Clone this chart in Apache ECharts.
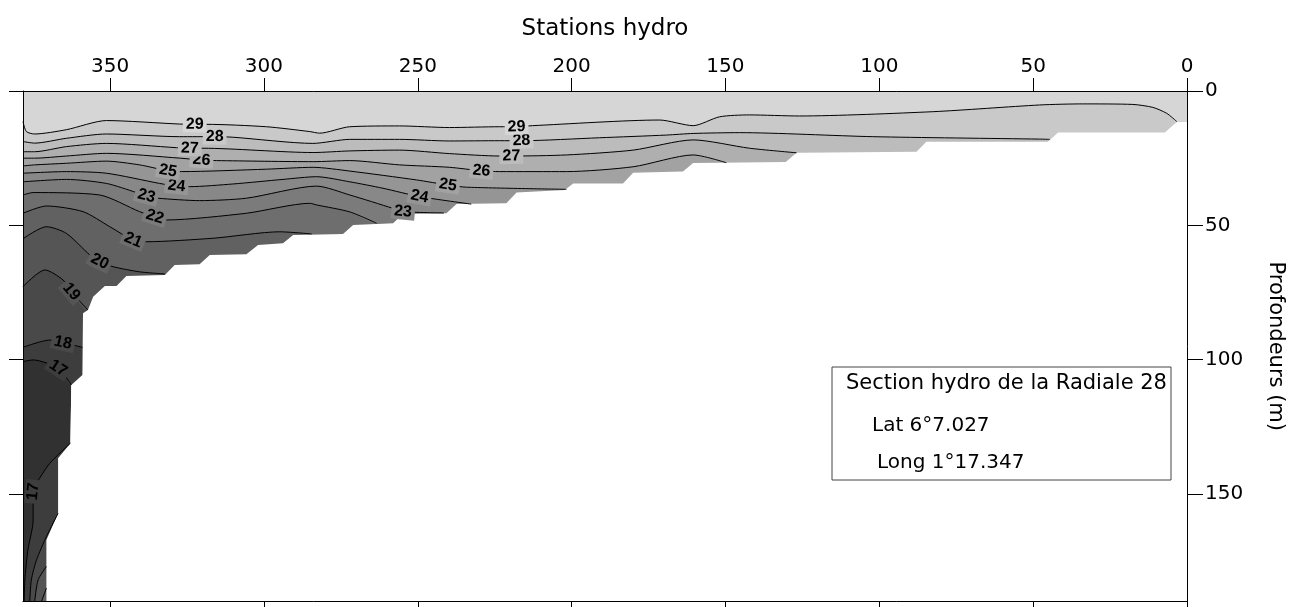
<!DOCTYPE html>
<html>
<head>
<meta charset="utf-8">
<title>Section hydro de la Radiale 28</title>
<script src="https://cdn.jsdelivr.net/npm/echarts@6/dist/echarts.min.js"></script>
<style>
html, body { margin: 0; padding: 0; background: #fff; }
#chart { width: 1295px; height: 607px; }
</style>
</head>
<body>
<div id="chart"></div>
<script>
// axes
var xTicks = [0, 50, 100, 150, 200, 250, 300, 350];
var yTicks = [0, 50, 100, 150];
var stationMax = 378.3;
var depthMax = 190;

// fond (station, profondeur)
var seabed = [[0, 11.5], [3.3, 11.5], [7.2, 15.4], [41.9, 15.4], [45.2, 18.9], [84.7, 18.9], [87.9, 22.6],
	[126.9, 23.0], [130.4, 26.4], [160.5, 26.8], [163.8, 30.0], [180.0, 30.4], [183.3, 34.4], [199.5, 34.4],
	[202.2, 36.8], [217.9, 37.8], [221.2, 41.8], [237.4, 42.1], [240.7, 45.5], [254.9, 45.8], [258.0, 49.2],
	[271.0, 49.9], [274.3, 53.2], [290.5, 53.6], [293.8, 56.7], [301.9, 57.3], [305.7, 60.8], [317.6, 61.0],
	[320.9, 64.5], [329.0, 64.8], [332.2, 68.5], [344.7, 68.9], [347.9, 72.6], [351.7, 72.6], [355.5, 76.6],
	[357.2, 81.5], [358.8, 82.7], [359.0, 105.7], [362.6, 109.4], [362.9, 131.1], [366.9, 136.7], [366.9, 157.2],
	[370.7, 167.1], [370.7, 190], [378.3, 190]];

// isothermes (station, profondeur)
var iso29 = [[378.3, 11.4], [377.2, 15.1], [374.5, 16.0], [364.2, 14.4], [351.2, 11.0], [327.4, 12.3], [322.5, 12.4],
	[318.7, 12.4], [299.2, 13.3], [285.1, 15.1], [281.9, 15.7], [272.1, 13.3], [255.9, 13.0], [239.7, 13.6],
	[223.4, 13.3], [217.9, 13.3], [212.7, 12.9], [171.4, 10.8], [160.5, 12.9], [151.9, 9.6], [142.2, 8.9],
	[125.9, 9.3], [82.6, 7.7], [47.9, 5.2], [33.9, 4.8], [17.6, 5.0], [11.1, 6.1], [6.6, 8.3], [3.3, 11.4]];
var iso28 = [[378.3, 18.8], [374.5, 19.4], [364.2, 17.6], [351.2, 16.0], [327.4, 17.0], [316.0, 17.0], [310.1, 17.2],
	[284.1, 19.5], [272.1, 18.0], [255.9, 18.0], [239.7, 18.6], [223.4, 18.5], [216.3, 18.5], [190.9, 17.4],
	[169.2, 16.4], [160.5, 15.8], [145.4, 15.5], [102.1, 17.0], [47.9, 17.9], [44.6, 18.0]];
var iso27 = [[378.3, 22.6], [374.5, 22.6], [364.2, 20.7], [351.2, 19.5], [328.4, 21.1], [324.1, 21.3], [319.8, 21.3],
	[284.0, 22.9], [272.1, 22.3], [255.9, 22.0], [239.7, 23.3], [223.4, 24.2], [219.6, 24.2], [201.7, 23.8],
	[180.0, 22.0], [160.5, 18.2], [142.2, 21.3], [126.9, 23.0]];
var iso26 = [[378.3, 25.0], [374.5, 25.0], [364.2, 24.2], [351.2, 23.2], [327.2, 25.0], [320.3, 25.7], [315.4, 25.9],
	[284.0, 26.3], [272.1, 25.9], [255.9, 27.5], [239.7, 28.4], [229.3, 29.7], [223.4, 30.0], [201.7, 30.0],
	[180.0, 28.2], [160.5, 23.8], [149.7, 26.7]];
var iso25 = [[378.3, 27.9], [374.5, 27.5], [364.2, 26.9], [351.2, 26.1], [340.4, 27.5], [331.2, 29.7], [326.8, 30.0],
	[299.2, 29.1], [284.0, 28.4], [272.1, 29.8], [250.4, 33.1], [240.2, 35.0], [234.2, 35.8], [201.7, 36.6]];
var iso24 = [[378.3, 30.6], [364.2, 30.0], [351.2, 30.6], [333.9, 34.4], [328.4, 35.4], [324.1, 35.6], [310.0, 34.6],
	[293.8, 32.9], [282.9, 31.9], [272.1, 33.8], [261.3, 36.2], [249.4, 39.3], [232.6, 42.1]];
var iso23 = [[378.3, 33.8], [364.2, 32.9], [351.2, 34.4], [341.4, 37.8], [338.2, 39.1], [334.4, 39.9], [320.9, 40.8],
	[305.7, 39.9], [282.9, 35.4], [272.1, 38.7], [258.0, 43.7], [254.8, 44.9], [241.5, 45.4]];
var iso22 = [[378.3, 38.7], [375.0, 37.8], [353.4, 38.7], [340.4, 44.9], [335.5, 46.8], [331.7, 48.0], [305.7, 45.5],
	[285.1, 41.8], [282.9, 42.4], [272.1, 45.0], [263.4, 49.2]];
var iso21 = [[378.3, 45.5], [370.7, 42.8], [358.8, 44.9], [350.1, 50.5], [342.5, 55.5], [338.2, 56.1], [316.5, 54.8],
	[294.9, 52.4], [284.5, 53.2]];
var iso20 = [[378.3, 55.0], [370.7, 50.5], [364.2, 53.0], [356.6, 61.0], [353.4, 63.5], [349.0, 65.4], [340.4, 67.3],
	[332.2, 68.1]];
var iso19 = [[378.3, 72.8], [371.2, 66.6], [365.3, 70.3], [362.6, 74.7], [357.2, 81.5]];
var iso18 = [[378.3, 95.4], [369.6, 92.7], [365.3, 93.7], [359.0, 95.4]];
var iso17 = [[378.3, 100.7], [375.0, 100.1], [366.9, 103.2], [362.6, 109.4]];

// isothermes du coin profond
var iso17b = [[362.9, 131.1], [369.6, 138.6], [373.9, 146.0], [375.0, 149.1], [375.0, 159.7], [376.7, 170.8],
	[377.7, 182.0], [377.9, 190]];
var iso18b = [[366.9, 157.2], [370.7, 165.9], [373.9, 174.5], [375.6, 182.0], [376.1, 190]];
var iso19b = [[370.7, 177.0], [373.4, 182.0], [374.5, 190]];
var iso20b = [[370.7, 185.0], [372.3, 190]];

var levels = [17, 18, 19, 20, 21, 22, 23, 24, 25, 26, 27, 28, 29];
var isoLines = {17: iso17, 18: iso18, 19: iso19, 20: iso20, 21: iso21, 22: iso22, 23: iso23,
	24: iso24, 25: iso25, 26: iso26, 27: iso27, 28: iso28, 29: iso29};
var bottomLines = [[17, iso17b], [18, iso18b], [19, iso19b], [20, iso20b]];

// index des points qui portent l'etiquette
var labelIdx = {29: [6, 15], 28: [5, 12], 27: [5, 12], 26: [5, 11], 25: [5, 11], 24: [4, 11], 23: [4, 11],
	22: [4], 21: [4], 20: [4], 19: [3], 18: [2], 17: [2]};
var bottomLabelIdx = {17: [3]};

// gris : <17 ... >29
var greys = ['#313131', '#3d3d3d', '#494949', '#555555', '#616161', '#6e6e6e', '#7b7b7b', '#888888',
	'#959595', '#a2a2a2', '#afafaf', '#bcbcbc', '#c9c9c9', '#d6d6d6'];

var font = 'DejaVu Sans';

function areaSeries(data, color, origin) {
	return {
		type: 'line',
		data: data,
		symbol: 'none',
		smooth: 0.25,
		silent: true,
		lineStyle: { width: 0, opacity: 0 },
		areaStyle: { color: color, opacity: 1, origin: origin }
	};
}

function lineSeries(data) {
	return {
		type: 'line',
		data: data,
		symbol: 'none',
		smooth: 0.25,
		silent: true,
		lineStyle: { color: '#000', width: 1 }
	};
}

var series = [];
var water = areaSeries(seabed, greys[0], 'start');
water.smooth = false;
series.push(water);
levels.forEach(function(t) {
	var d = isoLines[t];
	var ext = d.concat([[0, d[d.length - 1][1]]]);
	series.push(areaSeries(ext, greys[t - 16], 'start'));
});
bottomLines.forEach(function(b) {
	series.push(areaSeries(b[1], greys[b[0] - 16], 'end'));
});
var mask = areaSeries(seabed, '#fff', 'end');
mask.smooth = false;
series.push(mask);
levels.forEach(function(t) {
	series.push(lineSeries(isoLines[t]));
});
bottomLines.forEach(function(b) {
	series.push(lineSeries(b[1]));
});

var labelItems = [];
levels.forEach(function(t) {
	(labelIdx[t] || []).forEach(function(i) {
		labelItems.push({ t: t, line: isoLines[t], i: i });
	});
});
bottomLines.forEach(function(b) {
	(bottomLabelIdx[b[0]] || []).forEach(function(i) {
		labelItems.push({ t: b[0], line: b[1], i: i });
	});
});

var axisCommon = {
	type: 'value',
	inverse: true,
	z: 10,
	axisLine: { show: true, onZero: false, lineStyle: { color: '#000', width: 1 } },
	splitLine: { show: false }
};

function axis(extra) {
	return Object.assign({}, axisCommon, extra);
}

var option = {
	animation: false,
	backgroundColor: '#fff',
	textStyle: { fontFamily: font },
	grid: { left: 23, right: 108, top: 91, bottom: 5.5 },
	xAxis: [
		axis({
			position: 'top', min: 0, max: stationMax,
			name: 'Stations hydro', nameLocation: 'middle', nameGap: 50,
			nameTextStyle: { fontFamily: font, fontSize: 23, color: '#000' },
			axisTick: { show: true, inside: false, length: 13, customValues: xTicks, lineStyle: { color: '#000' } },
			axisLabel: { show: true, customValues: xTicks, fontFamily: font, fontSize: 20, color: '#000', margin: 14 }
		}),
		axis({
			position: 'bottom', min: 0, max: stationMax,
			axisTick: { show: true, inside: false, length: 6, customValues: xTicks, lineStyle: { color: '#000' } },
			axisLabel: { show: false }
		})
	],
	yAxis: [
		axis({
			position: 'right', min: 0, max: depthMax,
			name: 'Profondeurs (m)', nameLocation: 'middle', nameRotate: -90, nameGap: 78,
			nameTextStyle: { fontFamily: font, fontSize: 21, color: '#000' },
			axisTick: { show: true, inside: false, length: 16, customValues: yTicks, lineStyle: { color: '#000' } },
			axisLabel: { show: true, customValues: yTicks, fontFamily: font, fontSize: 20, color: '#000', margin: 18 }
		}),
		axis({
			position: 'left', min: 0, max: depthMax,
			axisTick: { show: true, inside: false, length: 14, customValues: yTicks, lineStyle: { color: '#000' } },
			axisLabel: { show: false }
		})
	],
	series: series
};

var chart = echarts.init(document.getElementById('chart'));
chart.setOption(option);

// etiquettes posees sur les isothermes, orientees comme la courbe
var labelGraphics = labelItems.map(function(it) {
	var a = it.line[Math.max(it.i - 1, 0)];
	var b = it.line[Math.min(it.i + 1, it.line.length - 1)];
	var p = chart.convertToPixel({ xAxisIndex: 0, yAxisIndex: 0 }, it.line[it.i]);
	var pa = chart.convertToPixel({ xAxisIndex: 0, yAxisIndex: 0 }, a);
	var pb = chart.convertToPixel({ xAxisIndex: 0, yAxisIndex: 0 }, b);
	var ang = Math.atan2(pb[1] - pa[1], pb[0] - pa[0]);
	if (ang > Math.PI / 2) ang -= Math.PI;
	if (ang < -Math.PI / 2) ang += Math.PI;
	return {
		type: 'text',
		x: p[0],
		y: p[1],
		rotation: -ang,
		z: 50,
		silent: true,
		style: {
			text: String(it.t),
			font: 'bold 16px "Liberation Sans"',
			fill: '#000',
			align: 'center',
			verticalAlign: 'middle',
			backgroundColor: greys[it.t - 16],
			padding: [0, 3]
		}
	};
});

// cartouche
var boxX = 832, boxY = 367;
var boxGraphics = [
	{ type: 'rect', z: 100, silent: true, shape: { x: boxX, y: boxY, width: 339, height: 113 },
		style: { fill: '#fff', stroke: '#444', lineWidth: 1 } },
	{ type: 'text', z: 101, silent: true, x: boxX + 14, y: boxY + 17,
		style: { text: 'Section hydro de la Radiale 28', font: '21px "DejaVu Sans"', fill: '#000', verticalAlign: 'middle' } },
	{ type: 'text', z: 101, silent: true, x: boxX + 40, y: boxY + 59,
		style: { text: 'Lat 6°7.027', font: '20px "DejaVu Sans"', fill: '#000', verticalAlign: 'middle' } },
	{ type: 'text', z: 101, silent: true, x: boxX + 45, y: boxY + 96,
		style: { text: 'Long 1°17.347', font: '20px "DejaVu Sans"', fill: '#000', verticalAlign: 'middle' } }
];

chart.setOption({ graphic: labelGraphics.concat(boxGraphics) });
</script>
</body>
</html>
